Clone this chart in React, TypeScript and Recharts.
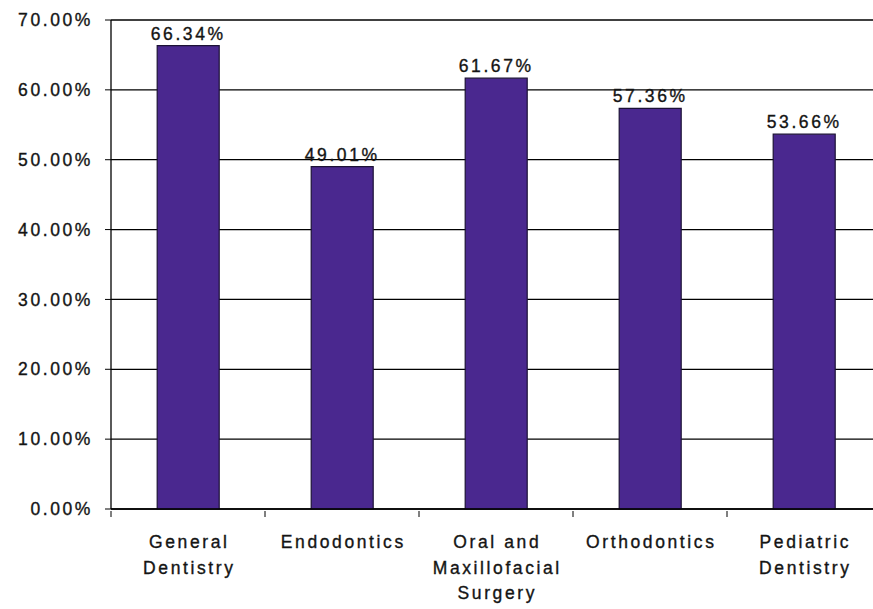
import { BarChart, Bar, XAxis, YAxis, CartesianGrid, LabelList } from "recharts";

const CATEGORIES = [
  "General Dentistry",
  "Endodontics",
  "Oral and Maxillofacial Surgery",
  "Orthodontics",
  "Pediatric Dentistry",
];
const LABEL_LINES: string[][] = [
  ["General", "Dentistry"],
  ["Endodontics"],
  ["Oral and", "Maxillofacial", "Surgery"],
  ["Orthodontics"],
  ["Pediatric", "Dentistry"],
];
const VALUES = [66.34, 49.01, 61.67, 57.36, 53.66];
const Y_TICKS = [0, 10, 20, 30, 40, 50, 60, 70];

const data = CATEGORIES.map((name, i) => ({ name, value: VALUES[i] }));

const W = 885;
const H = 609;
const MARGIN = { top: 20, right: 4, left: 0, bottom: 0 };
const Y_W = 111;
const FONT = "Liberation Sans, Arial, sans-serif";
const INK = "#141414";
const SPACING = 2.6;
// slight outline so the text looks as heavy as the reference
const TEXT_STYLE = {
  fill: INK,
  stroke: INK,
  strokeWidth: 0.35,
  fontSize: 17.5,
  fontFamily: FONT,
  letterSpacing: SPACING,
};

const pct = (v: number) => `${v.toFixed(2)}%`;

function CategoryTick(props: any) {
  const { x, y, payload, index } = props;
  const slot = (W - MARGIN.left - MARGIN.right - Y_W) / CATEGORIES.length;
  const lines = LABEL_LINES[index] ?? [payload.value];
  const isLast = index === CATEGORIES.length - 1;
  return (
    <g>
      <line x1={x - slot / 2} x2={x - slot / 2} y1={y - 6} y2={y} stroke="#000" />
      {isLast && (
        <line x1={x + slot / 2} x2={x + slot / 2} y1={y - 6} y2={y} stroke="#000" />
      )}
      <text x={x} y={y} textAnchor="middle" style={TEXT_STYLE}>
        {lines.map((ln, i) => (
          <tspan key={i} x={x + SPACING / 2} dy={i === 0 ? 31 : 25.5}>
            {ln}
          </tspan>
        ))}
      </text>
    </g>
  );
}

export default function App() {
  return (
    <div style={{ width: 873, height: 609, overflow: "hidden", background: "#fff" }}>
      <style>{"html,body{margin:0;padding:0;overflow:hidden;}"}</style>
      <BarChart width={W} height={H} data={data} margin={MARGIN} barCategoryGap="30%">
        <CartesianGrid vertical={false} stroke="#000" strokeWidth={1.3} />
        <XAxis
          dataKey="name"
          interval={0}
          height={100}
          tickLine={false}
          axisLine={{ stroke: "#000", strokeWidth: 1.3 }}
          tick={<CategoryTick />}
        />
        <YAxis
          width={Y_W}
          domain={[0, 70]}
          ticks={Y_TICKS}
          interval={0}
          tickFormatter={pct}
          tickSize={6}
          tickMargin={12}
          axisLine={{ stroke: "#000", strokeWidth: 1.3 }}
          tickLine={{ stroke: "#000" }}
          tick={TEXT_STYLE}
        />
        <Bar dataKey="value" fill="#4a288f" stroke="#1c1236" strokeWidth={1.2} isAnimationActive={false}>
          <LabelList
            dataKey="value"
            position="top"
            offset={6}
            formatter={(v: any) => pct(Number(v))}
            style={TEXT_STYLE}
          />
        </Bar>
      </BarChart>
    </div>
  );
}
